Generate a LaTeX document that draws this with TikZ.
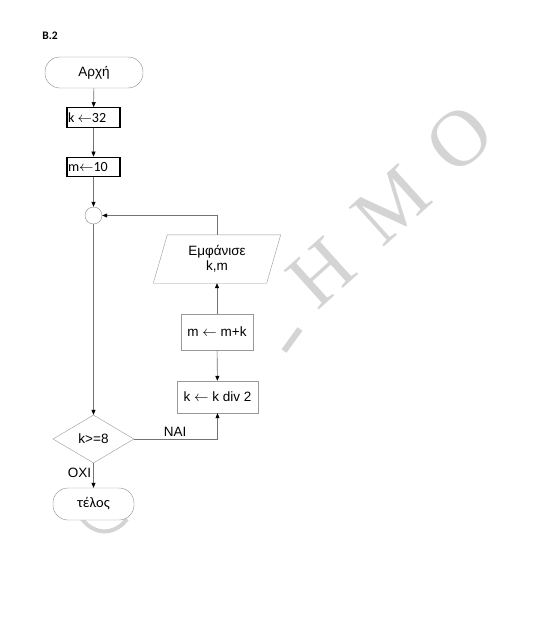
\documentclass[tikz,border=0pt]{standalone}
\usepackage{fontspec}
\setmainfont{Liberation Sans}
\newfontfamily\calfont{Carlito}
\newfontfamily\wmfont{Liberation Serif}
\newcommand\lar{\ensuremath{\leftarrow}}
\usetikzlibrary{shapes.geometric,arrows.meta}
\tikzset{
  wm/.style={text=black!17, font=\wmfont\fontsize{80}{80}\selectfont, rotate=42, inner sep=0pt},
  wmline/.style={draw=black!17},
  term/.style={draw=black!45, fill=white, rounded corners=15pt, minimum width=98pt, minimum height=31pt, inner sep=0pt, font=\fontsize{13.5}{15}\selectfont},
  asg/.style={draw=black, line width=1.3pt, fill=white, minimum width=53pt, minimum height=19.5pt, inner sep=0pt, font=\calfont\fontsize{14}{15}\selectfont},
  proc/.style={draw=black!40, fill=white, inner sep=0pt, font=\fontsize{13.5}{15}\selectfont},
  conn/.style={draw=black!55, line width=0.6pt, -{Triangle[length=5pt,width=4pt,black]}},
  lbl/.style={font=\fontsize{13.5}{15}\selectfont, inner sep=2pt}
}
\begin{document}
\begin{tikzpicture}[x=1pt,y=-1pt]
\fill[white] (0,0) rectangle (543,635);
\useasboundingbox (0,0) rectangle (543,635);
% watermark
\node[wm] (w1) at (321,273) {Η};
\node[wm] (w2) at (391,205) {Μ};
\node[wm] (w3) at (460,139) {Ο};
\draw[wmline, line width=6pt] (284,351) -- (300,329);
\draw[wmline, line width=4pt] (82,519) .. controls (95,536) and (115,535) .. (127,519);
% title
\node[font=\calfont\bfseries\fontsize{11.5}{13}\selectfont, inner sep=0pt] (title) at (50,36) {B.2};
% nodes
\node[term] (start) at (94,72.5) {Αρχή};
\node[asg] (k32) at (93.5,117.5) {\makebox[51pt][l]{k \lar32}};
\node[asg] (m10) at (93.5,167) {\makebox[51pt][l]{m\lar10}};
\node[circle, draw=black!45, fill=white, minimum size=17pt, inner sep=0pt] (j) at (93.5,215.5) {};
\node[diamond, draw=black!40, fill=white, minimum width=81pt, minimum height=48pt, aspect=1.7, inner sep=0pt, font=\fontsize{13.5}{15}\selectfont] (cond) at (93.5,439) {k>=8};
\node[term, minimum width=81pt, minimum height=32pt, font=\calfont\fontsize{14.5}{16}\selectfont] (end) at (93.5,504) {τέλος};
\node[proc, minimum width=72pt, minimum height=36pt] (mk) at (217,332) {m \lar{} m+k};
\node[proc, minimum width=81pt, minimum height=32pt] (kdiv) at (217.5,397) {k \lar{} k div 2};
\node[minimum width=113pt, minimum height=48pt, inner sep=0pt, align=center, font=\fontsize{13.5}{15.5}\selectfont] (out) at (217,259) {Εμφάνισε\\k,m};
\draw[draw=black!40] ([xshift=-7pt]out.south west) -- ([xshift=-7pt]out.south east) -- ([xshift=7pt]out.north east) -- ([xshift=7pt]out.north west) -- cycle;
% connectors
\draw[conn] (start) -- (k32);
\draw[conn] (k32) -- (m10);
\draw[conn] (m10) -- (j);
\draw[conn] (j) -- (cond);
\draw[conn] (cond.east) -| node[lbl, pos=0.245, above] {NAI} (kdiv.south);
\draw[conn] (mk) -- (kdiv);
\draw[conn] (mk) -- (out);
\draw[conn] (out.north) |- (j.east);
\draw[conn] (cond.south) -- node[lbl, pos=0.4, left] {ΟΧΙ} (end.north);
\end{tikzpicture}
\end{document}
